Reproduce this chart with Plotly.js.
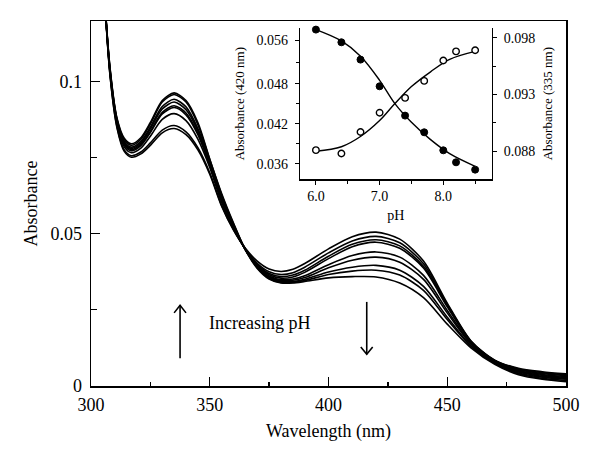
<!DOCTYPE html>
<html>
<head>
<meta charset="utf-8">
<script src="https://cdn.plot.ly/plotly-3.0.1.min.js"></script>
<style>
  html, body { margin: 0; padding: 0; background: #fff; }
  #chart { width: 600px; height: 464px; }
</style>
</head>
<body>
<div id="chart"></div>
<script>
// wavelength grid (nm) and the nine spectra, low pH -> high pH
const wavelength = [300, 303, 305, 308, 311, 314, 317, 321, 325, 330, 335, 340, 345, 350, 355, 360, 365, 370, 375, 380, 385, 390, 400, 410, 420, 430, 440, 450, 460, 470, 480, 490, 500];

const spectra = [
  [0.25, 0.17, 0.137, 0.1020, 0.0845, 0.0770, 0.0751, 0.0762, 0.0790, 0.0831, 0.0845, 0.0825, 0.0775, 0.0695, 0.0590, 0.0512, 0.0452, 0.0410, 0.0384, 0.0376, 0.0383, 0.0402, 0.0450, 0.0490, 0.0505, 0.0482, 0.0410, 0.0272, 0.0148, 0.0085, 0.0058, 0.0047, 0.0040],
  [0.25, 0.17, 0.137, 0.1022, 0.0849, 0.0775, 0.0756, 0.0768, 0.0798, 0.0840, 0.0855, 0.0834, 0.0782, 0.0700, 0.0593, 0.0513, 0.0450, 0.0403, 0.0375, 0.0366, 0.0372, 0.0390, 0.0437, 0.0476, 0.0491, 0.0470, 0.0401, 0.0268, 0.0147, 0.0084, 0.0056, 0.0044, 0.0037],
  [0.25, 0.17, 0.137, 0.1028, 0.0857, 0.0785, 0.0766, 0.0781, 0.0820, 0.0875, 0.0894, 0.0871, 0.0810, 0.0717, 0.0603, 0.0517, 0.0449, 0.0399, 0.0369, 0.0359, 0.0364, 0.0380, 0.0426, 0.0465, 0.0480, 0.0460, 0.0393, 0.0264, 0.0146, 0.0083, 0.0053, 0.0041, 0.0034],
  [0.25, 0.17, 0.137, 0.1031, 0.0862, 0.0791, 0.0772, 0.0789, 0.0832, 0.0893, 0.0914, 0.0890, 0.0825, 0.0725, 0.0608, 0.0520, 0.0448, 0.0396, 0.0365, 0.0354, 0.0358, 0.0373, 0.0418, 0.0457, 0.0472, 0.0452, 0.0387, 0.0260, 0.0144, 0.0082, 0.0051, 0.0038, 0.0031],
  [0.25, 0.17, 0.137, 0.1033, 0.0865, 0.0795, 0.0776, 0.0793, 0.0836, 0.0898, 0.0920, 0.0896, 0.0830, 0.0728, 0.0612, 0.0522, 0.0448, 0.0394, 0.0361, 0.0349, 0.0351, 0.0362, 0.0398, 0.0428, 0.0440, 0.0423, 0.0363, 0.0248, 0.0140, 0.0080, 0.0048, 0.0035, 0.0028],
  [0.25, 0.17, 0.137, 0.1036, 0.0868, 0.0799, 0.0780, 0.0798, 0.0844, 0.0909, 0.0932, 0.0907, 0.0838, 0.0733, 0.0617, 0.0525, 0.0448, 0.0392, 0.0358, 0.0346, 0.0347, 0.0356, 0.0388, 0.0413, 0.0423, 0.0406, 0.0350, 0.0240, 0.0137, 0.0078, 0.0046, 0.0032, 0.0025],
  [0.25, 0.17, 0.137, 0.1039, 0.0871, 0.0803, 0.0784, 0.0803, 0.0850, 0.0917, 0.0941, 0.0916, 0.0845, 0.0737, 0.0621, 0.0528, 0.0448, 0.0390, 0.0356, 0.0343, 0.0343, 0.0350, 0.0374, 0.0390, 0.0396, 0.0380, 0.0327, 0.0226, 0.0132, 0.0076, 0.0043, 0.0029, 0.0022],
  [0.25, 0.17, 0.137, 0.1043, 0.0874, 0.0809, 0.0790, 0.0810, 0.0860, 0.0932, 0.0957, 0.0932, 0.0858, 0.0743, 0.0628, 0.0532, 0.0447, 0.0388, 0.0353, 0.0340, 0.0340, 0.0346, 0.0366, 0.0377, 0.0380, 0.0364, 0.0314, 0.0218, 0.0130, 0.0074, 0.0040, 0.0025, 0.0018],
  [0.25, 0.17, 0.137, 0.1045, 0.0877, 0.0813, 0.0795, 0.0815, 0.0865, 0.0937, 0.0962, 0.0937, 0.0865, 0.0745, 0.0632, 0.0535, 0.0447, 0.0386, 0.0351, 0.0338, 0.0338, 0.0343, 0.0355, 0.0359, 0.0358, 0.0338, 0.0290, 0.0203, 0.0125, 0.0071, 0.0037, 0.0022, 0.0014]
];

// inset: titration points and fitted curves
const pH = [6.0, 6.4, 6.7, 7.0, 7.4, 7.7, 8.0, 8.2, 8.5];
const abs420 = [0.0561, 0.0542, 0.0516, 0.0476, 0.0432, 0.0407, 0.0380, 0.0362, 0.0351];
const abs335 = [0.0881, 0.0878, 0.0897, 0.0914, 0.0927, 0.0942, 0.0960, 0.0968, 0.0969];

const fitPH = [6.0, 6.4, 6.7, 7.0, 7.24, 7.5, 7.8, 8.1, 8.5];
const fit420 = [0.0561, 0.0544, 0.0521, 0.0485, 0.0450, 0.0422, 0.0396, 0.0375, 0.0356];
const fit335 = [0.0880, 0.0884, 0.0893, 0.0907, 0.0922, 0.0937, 0.0950, 0.0961, 0.0968];

const serif = 'Liberation Serif, DejaVu Serif, serif';

const traces = spectra.map(s => ({
  x: wavelength, y: s, type: 'scatter', mode: 'lines',
  line: {color: '#000', width: 1.6, shape: 'spline', smoothing: 0.8},
  xaxis: 'x', yaxis: 'y', hoverinfo: 'skip'
}));

traces.push({
  x: fitPH, y: fit420, mode: 'lines', line: {color: '#000', width: 1.4, shape: 'spline'},
  xaxis: 'x2', yaxis: 'y2'
});
traces.push({
  x: fitPH, y: fit335, mode: 'lines', line: {color: '#000', width: 1.4, shape: 'spline'},
  xaxis: 'x2', yaxis: 'y3'
});
traces.push({
  x: pH, y: abs420, mode: 'markers', cliponaxis: false,
  marker: {symbol: 'circle', size: 7, color: '#000', line: {color: '#000', width: 1}},
  xaxis: 'x2', yaxis: 'y2'
});
traces.push({
  x: pH, y: abs335, mode: 'markers', cliponaxis: false,
  marker: {symbol: 'circle', size: 6.5, color: '#fff', line: {color: '#000', width: 1.4}},
  xaxis: 'x2', yaxis: 'y3'
});

const layout = {
  width: 600, height: 464,
  margin: {l: 91, r: 34, t: 21, b: 78},
  showlegend: false,
  paper_bgcolor: '#fff', plot_bgcolor: '#fff',
  font: {family: serif, color: '#000', size: 18},
  xaxis: {
    range: [300, 500], showgrid: false, zeroline: false,
    showline: true, linewidth: 1.5, linecolor: '#000', mirror: true,
    ticks: 'inside', ticklen: 9, tickwidth: 1.3, tickcolor: '#000',
    tickvals: [300, 350, 400, 450, 500],
    minor: {tickvals: [325, 375, 425, 475], ticks: 'inside', ticklen: 4, tickwidth: 1.3, tickcolor: '#000'},
    tickfont: {size: 18}, ticklabelstandoff: 2,
    title: {text: 'Wavelength (nm)', font: {size: 18}, standoff: 10}
  },
  yaxis: {
    range: [0, 0.1198], showgrid: false, zeroline: false,
    showline: true, linewidth: 1.5, linecolor: '#000', mirror: true,
    ticks: 'inside', ticklen: 9, tickwidth: 1.3, tickcolor: '#000',
    tickvals: [0, 0.05, 0.1], ticktext: ['0', '0.05', '0.1'],
    minor: {tickvals: [0.025, 0.075], ticks: 'inside', ticklen: 6, tickwidth: 1.3, tickcolor: '#000'},
    tickfont: {size: 18}, ticklabelstandoff: 4,
    title: {text: 'Absorbance', font: {size: 18}, standoff: 8}
  },
  xaxis2: {
    domain: [0.44, 0.8436], anchor: 'y2', range: [5.75, 8.76],
    showgrid: false, zeroline: false, showline: true, linewidth: 1.3, linecolor: '#000',
    ticks: 'outside', ticklen: 4, tickwidth: 1, tickcolor: '#000',
    tickvals: [6, 7, 8], ticktext: ['6.0', '7.0', '8.0'],
    minor: {tickvals: [6.5, 7.5, 8.5], ticks: 'outside', ticklen: 3, tickwidth: 1, tickcolor: '#000'},
    tickfont: {size: 14},
    title: {text: 'pH', font: {size: 14}, standoff: 6}
  },
  yaxis2: {
    domain: [0.5663, 0.9808], anchor: 'x2', side: 'left', range: [0.03365, 0.05634],
    showgrid: false, zeroline: false, showline: true, linewidth: 1.3, linecolor: '#000',
    ticks: 'outside', ticklen: 4, tickwidth: 1, tickcolor: '#000',
    tickvals: [0.036, 0.042, 0.048, 0.0545], ticktext: ['0.036', '0.042', '0.048', '0.056'],
    minor: {tickvals: [0.039, 0.045, 0.0512], ticks: 'outside', ticklen: 3, tickwidth: 1, tickcolor: '#000'},
    tickfont: {size: 14}, ticklabelstandoff: 4,
    title: {text: 'Absorbance (420 nm)', font: {size: 13}, standoff: 8}
  },
  yaxis3: {
    overlaying: 'y2', anchor: 'x2', side: 'right', range: [0.08553, 0.09886],
    showgrid: false, zeroline: false, showline: true, linewidth: 1.3, linecolor: '#000',
    ticks: 'outside', ticklen: 4, tickwidth: 1, tickcolor: '#000',
    tickvals: [0.088, 0.093, 0.098], ticktext: ['0.088', '0.093', '0.098'],
    minor: {tickvals: [0.0905, 0.0955], ticks: 'outside', ticklen: 3, tickwidth: 1, tickcolor: '#000'},
    tickfont: {size: 14}, ticklabelstandoff: 4,
    title: {text: 'Absorbance (335 nm)', font: {size: 13}, standoff: 8}
  },
  annotations: [
    {x: 337, y: 0.0208, xref: 'x', yref: 'y', text: 'Increasing pH', showarrow: false,
     xanchor: 'left', yanchor: 'middle', xshift: 28, font: {size: 18}}
  ],
  shapes: [
    // up arrow near 337 nm
    {type: 'line', xref: 'x', yref: 'y', x0: 337.5, x1: 337.5, y0: 0.0091, y1: 0.0265, line: {color: '#000', width: 1.6}},
    {type: 'path', xref: 'x', yref: 'y', path: 'M 335,0.0240 L 337.5,0.0265 L 340,0.0240', line: {color: '#000', width: 1.6}},
    // down arrow near 416 nm
    {type: 'line', xref: 'x', yref: 'y', x0: 416.1, x1: 416.1, y0: 0.0276, y1: 0.0104, line: {color: '#000', width: 1.6}},
    {type: 'path', xref: 'x', yref: 'y', path: 'M 413.6,0.0128 L 416.1,0.0104 L 418.6,0.0128', line: {color: '#000', width: 1.6}}
  ]
};

Plotly.newPlot('chart', traces, layout, {displayModeBar: false, staticPlot: true});
</script>
</body>
</html>
